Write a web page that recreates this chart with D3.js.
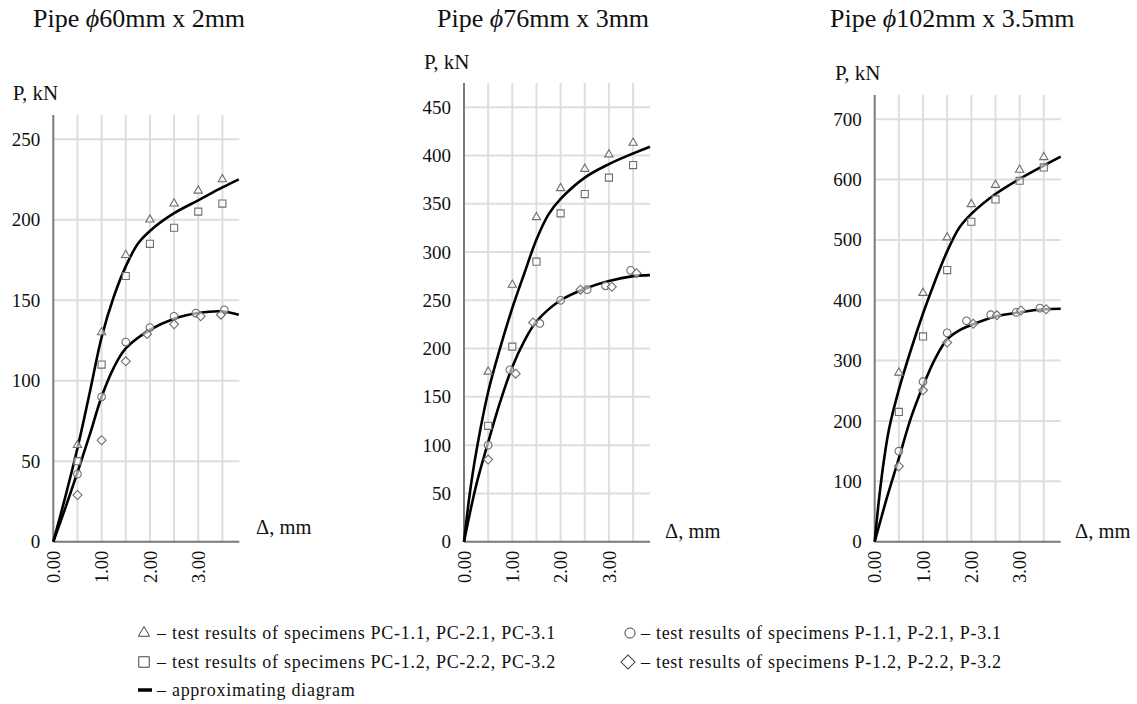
<!DOCTYPE html>
<html><head><meta charset="utf-8">
<script src="https://cdn.jsdelivr.net/npm/d3@7"></script>
<style>
body{margin:0;background:#fff}
svg{display:block}
text{font-family:"Liberation Serif","Times New Roman",serif;fill:#111}
</style>
</head><body>
<svg id="c" width="1137" height="704"></svg>
<script>
// ---------- data ----------
const titles = ["60mm x 2mm", "76mm x 3mm", "102mm x 3.5mm"];
const xTicks = [0, 1, 2, 3];
const xGrid = [0.5, 1, 1.5, 2, 2.5, 3, 3.5];
const yTicks60 = [0, 50, 100, 150, 200, 250];
const yTicks76 = [0, 50, 100, 150, 200, 250, 300, 350, 400, 450];
const yTicks102 = [0, 100, 200, 300, 400, 500, 600, 700];

// Pipe 60 x 2
const pc1_60 = [[0.5,60],[1,130],[1.5,178],[2,200],[2.5,210],[3,218],[3.5,225]];
const pc2_60 = [[0.5,50],[1,110],[1.5,165],[2,185],[2.5,195],[3,205],[3.5,210]];
const p1_60  = [[0.5,42],[1,90],[1.5,124],[2,133],[2.5,140],[2.95,142],[3.54,144]];
const p2_60  = [[0.5,29],[1,63],[1.5,112],[1.94,129],[2.5,135],[3.05,140],[3.47,141]];
const upper_60 = [[0,0],[0.25,28],[0.5,58],[0.75,92],[1,127],[1.25,152],[1.5,171],[1.75,185],[2,193],[2.5,204],[3,212],[3.5,220],[3.84,225]];
const lower_60 = [[0,0],[0.25,21],[0.5,43],[0.75,66],[1,90],[1.25,108],[1.5,120],[2,131.5],[2.5,138.5],[3,142],[3.5,143],[3.84,141]];

// Pipe 76 x 3
const pc1_76 = [[0.5,176],[1,266],[1.5,336],[2,366],[2.5,386],[3,401],[3.5,413]];
const pc2_76 = [[0.5,120],[1,202],[1.5,290],[2,340],[2.5,360],[3,377],[3.5,390]];
const p1_76  = [[0.5,100],[0.95,178],[1.57,226],[2,250],[2.55,261],[2.93,265],[3.45,281]];
const p2_76  = [[0.5,85],[1.07,174],[1.43,227],[2.41,261],[3.06,264],[3.57,278]];
const upper_76 = [[0,0],[0.12,50],[0.25,92],[0.5,155],[0.75,201],[1,242],[1.25,278],[1.5,313],[1.75,339],[2,355],[2.5,377],[3,391],[3.5,402],[3.85,409]];
const lower_76 = [[0,0],[0.25,58],[0.5,103],[0.75,145],[1,181],[1.25,208],[1.5,228],[2,250],[2.5,262],[3,270],[3.5,275],[3.85,276]];

// Pipe 102 x 3.5
const pc1_102 = [[0.5,280],[1,412],[1.5,504],[2,559],[2.5,591],[3,616],[3.5,637]];
const pc2_102 = [[0.5,215],[1,340],[1.5,450],[2,530],[2.5,567],[3,598],[3.5,620]];
const p1_102  = [[0.5,150],[1,265],[1.5,346],[1.9,366],[2.4,376],[2.93,380],[3.42,387]];
const p2_102  = [[0.5,125],[1,251],[1.5,330],[2.04,361],[2.53,375],[3.03,383],[3.55,385]];
const upper_102 = [[0,0],[0.1,78],[0.2,140],[0.3,188],[0.5,252],[0.75,318],[1,378],[1.25,432],[1.5,481],[1.75,520],[2,543],[2.5,576],[3,601],[3.5,623],[3.85,638]];
const lower_102 = [[0,0],[0.25,72],[0.5,138],[0.75,205],[1,258],[1.25,303],[1.5,335],[1.75,350],[2,359],[2.5,373],[3,380],[3.5,385],[3.85,386]];

const legendLabels = [
  "– test results of specimens PC-1.1, PC-2.1, PC-3.1",
  "– test results of specimens PC-1.2, PC-2.2, PC-3.2",
  "– approximating diagram",
  "– test results of specimens P-1.1, P-2.1, P-3.1",
  "– test results of specimens P-1.2, P-2.2, P-3.2"
];

// ---------- layout ----------
const panels = [
  {title: titles[0], yTicks: yTicks60, yMax: 265, x0: 53.3, top: 115, tx: 33, pkx: 12.7, pky: 100, dx: 256, dy: 534,
   tri: pc1_60, sq: pc2_60, circ: p1_60, dia: p2_60, curves: [upper_60, lower_60]},
  {title: titles[1], yTicks: yTicks76, yMax: 475, x0: 464, top: 83, tx: 437, pkx: 424, pky: 69, dx: 665, dy: 538,
   tri: pc1_76, sq: pc2_76, circ: p1_76, dia: p2_76, curves: [upper_76, lower_76]},
  {title: titles[2], yTicks: yTicks102, yMax: 740, x0: 874.7, top: 95, tx: 830, pkx: 835, pky: 80, dx: 1075, dy: 538,
   tri: pc1_102, sq: pc2_102, circ: p1_102, dia: p2_102, curves: [upper_102, lower_102]}
];
const bottom = 541.7, plotW = 186, xMax = 3.85;
const svg = d3.select("#c");
const markStroke = "#6e6e6e";
const gridColor = "#dedede";
const axisColor = "#7a7a7a";

const symTri = d3.symbol().type(d3.symbolTriangle).size(30);
const symSq = d3.symbol().type(d3.symbolSquare).size(50);
const symCirc = d3.symbol().type(d3.symbolCircle).size(46);
const symDia = d3.symbol().type(d3.symbolSquare).size(40);

panels.forEach(p => {
  const x = d3.scaleLinear().domain([0, xMax]).range([p.x0, p.x0 + plotW]);
  const y = d3.scaleLinear().domain([0, p.yMax]).range([bottom, p.top]);
  const g = svg.append("g");

  // grid
  g.selectAll(".vg").data(xGrid).join("line")
    .attr("x1", d => x(d)).attr("x2", d => x(d))
    .attr("y1", bottom).attr("y2", p.top)
    .attr("stroke", gridColor).attr("stroke-width", 2);
  g.selectAll(".hg").data(p.yTicks.filter(d => d > 0)).join("line")
    .attr("x1", p.x0).attr("x2", p.x0 + plotW)
    .attr("y1", d => y(d)).attr("y2", d => y(d))
    .attr("stroke", gridColor).attr("stroke-width", 2);

  // axes via d3 axis generators
  const yAxis = d3.axisLeft(y).tickValues(p.yTicks).tickSize(0).tickPadding(13).tickFormat(d3.format("d"));
  const ya = g.append("g").attr("transform", `translate(${p.x0},0)`).call(yAxis);
  ya.select(".domain").remove();
  ya.selectAll("text").attr("font-size", 19).attr("fill", "#111");
  g.append("line").attr("x1", p.x0).attr("x2", p.x0).attr("y1", bottom).attr("y2", p.top)
    .attr("stroke", axisColor).attr("stroke-width", 2);

  const xAxis = d3.axisBottom(x).tickValues(xTicks).tickSize(0).tickFormat(d3.format(".2f"));
  const xa = g.append("g").attr("transform", `translate(0,${bottom})`).call(xAxis);
  xa.select(".domain").remove();
  xa.selectAll("text")
    .attr("font-size", 18.5).attr("fill", "#111")
    .attr("transform", "rotate(-90)")
    .attr("text-anchor", "end")
    .attr("x", -9).attr("y", 0).attr("dy", "0.33em");
  g.append("line").attr("x1", p.x0).attr("x2", p.x0 + plotW).attr("y1", bottom).attr("y2", bottom)
    .attr("stroke", axisColor).attr("stroke-width", 2);

  // curves
  const line = d3.line().x(d => x(d[0])).y(d => y(d[1])).curve(d3.curveCatmullRom.alpha(0.5));
  g.selectAll(".cv").data(p.curves).join("path")
    .attr("d", line).attr("fill", "none").attr("stroke", "#000").attr("stroke-width", 2.6);

  // markers
  const draw = (data, sym, rot) => g.append("g").selectAll("path").data(data).join("path")
    .attr("d", sym())
    .attr("transform", d => `translate(${x(d[0])},${y(d[1])})` + (rot ? " rotate(45)" : ""))
    .attr("fill", "#fff").attr("fill-opacity", 0.6).attr("stroke", markStroke).attr("stroke-width", 1.1);
  draw(p.tri, symTri, false);
  draw(p.sq, symSq, false);
  draw(p.circ, symCirc, false);
  draw(p.dia, symDia, true);

  // labels
  const t = g.append("text").attr("x", p.tx).attr("y", 27).attr("font-size", 26);
  t.append("tspan").text("Pipe ");
  t.append("tspan").attr("font-style", "italic").text("ϕ");
  t.append("tspan").text(p.title);
  g.append("text").attr("x", p.pkx).attr("y", p.pky).attr("font-size", 21).text("P, kN");
  g.append("text").attr("x", p.dx).attr("y", p.dy).attr("font-size", 20.5).text("Δ, mm");
});

// ---------- legend ----------
const lg = svg.append("g");
const legendItems = [
  {sym: "tri", cx: 144, cy: 633, tx: 157, label: legendLabels[0]},
  {sym: "sq", cx: 144, cy: 662, tx: 157, label: legendLabels[1]},
  {sym: "line", cx: 145, cy: 690, tx: 157, label: legendLabels[2]},
  {sym: "circ", cx: 630, cy: 633, tx: 641, label: legendLabels[3]},
  {sym: "dia", cx: 628, cy: 662, tx: 641, label: legendLabels[4]}
];
const legSym = {
  tri: d3.symbol().type(d3.symbolTriangle).size(55)(),
  sq: d3.symbol().type(d3.symbolSquare).size(110)(),
  circ: d3.symbol().type(d3.symbolCircle).size(80)(),
  dia: d3.symbol().type(d3.symbolSquare).size(100)()
};
legendItems.forEach(it => {
  if (it.sym === "line") {
    lg.append("line").attr("x1", it.cx - 7).attr("x2", it.cx + 7).attr("y1", it.cy).attr("y2", it.cy)
      .attr("stroke", "#000").attr("stroke-width", 3.5);
  } else {
    lg.append("path").attr("d", legSym[it.sym])
      .attr("transform", `translate(${it.cx},${it.cy})` + (it.sym === "dia" ? " rotate(45)" : ""))
      .attr("fill", "none").attr("stroke", "#444").attr("stroke-width", 1);
  }
  lg.append("text").attr("x", it.tx).attr("y", it.cy + 6).attr("font-size", 18)
    .attr("letter-spacing", 0.72).text(it.label);
});
</script>
</body></html>
